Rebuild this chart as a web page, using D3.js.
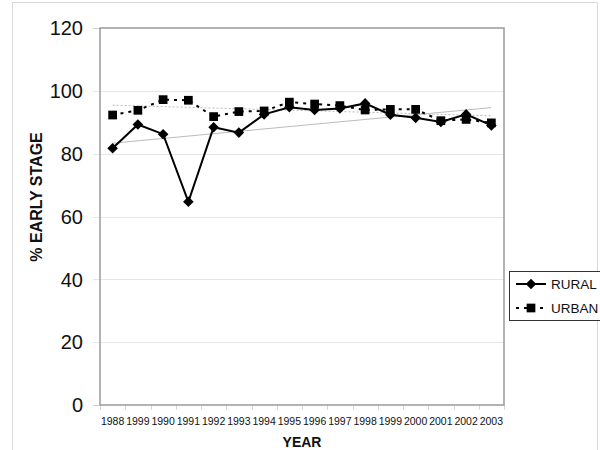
<!DOCTYPE html>
<html>
<head>
<meta charset="utf-8">
<script src="https://cdn.jsdelivr.net/npm/d3@7"></script>
<style>
  body { margin: 0; background: #fff; }
  text { font-family: "Liberation Sans", Arial, sans-serif; }
</style>
</head>
<body>
<div id="chart"></div>
<script>
// chart data
var years = ['1988', '1999', '1990', '1991', '1992', '1993', '1994', '1995',
             '1996', '1997', '1998', '1999', '2000', '2001', '2002', '2003'];
var rural = [81.7, 89.3, 86.2, 64.7, 88.4, 86.7, 92.5, 94.8,
             93.9, 94.4, 96.0, 92.4, 91.4, 90.1, 92.5, 89.0];
var urban = [92.3, 93.8, 97.2, 97.0, 91.8, 93.4, 93.6, 96.4,
             95.8, 95.3, 93.9, 94.1, 94.1, 90.5, 90.9, 89.8];
var yTicks = [0, 20, 40, 60, 80, 100, 120];

var width = 600, height = 450;
var plot = { left: 100, right: 504, top: 28, bottom: 405 };

var svg = d3.select('#chart').append('svg')
  .attr('width', width)
  .attr('height', height);

// outer chart frame
svg.append('rect')
  .attr('x', 12.5).attr('y', 2.5)
  .attr('width', 585).attr('height', 460)
  .attr('fill', 'none')
  .attr('stroke', '#d9d9d9');

// index positions so duplicate year labels stay separate
var x = d3.scaleBand()
  .domain(d3.range(years.length))
  .range([plot.left, plot.right]);

var y = d3.scaleLinear()
  .domain([0, 120])
  .range([plot.bottom, plot.top]);

function cx(i) { return x(i) + x.bandwidth() / 2; }

// gridlines + y ticks
svg.append('g')
  .selectAll('line')
  .data(yTicks.filter(function(d) { return d > 0 && d < 120; }))
  .enter().append('line')
  .attr('x1', plot.left - 7).attr('x2', plot.right)
  .attr('y1', function(d) { return Math.round(y(d)) + 0.5; })
  .attr('y2', function(d) { return Math.round(y(d)) + 0.5; })
  .attr('stroke', '#e6e6e6');

svg.append('g')
  .selectAll('line')
  .data([0, 120])
  .enter().append('line')
  .attr('x1', plot.left - 7).attr('x2', plot.left)
  .attr('y1', function(d) { return Math.round(y(d)) + 0.5; })
  .attr('y2', function(d) { return Math.round(y(d)) + 0.5; })
  .attr('stroke', '#d0d0d0');

// x ticks below the frame
svg.append('g')
  .selectAll('line')
  .data(d3.range(years.length + 1))
  .enter().append('line')
  .attr('x1', function(d) { return Math.round(plot.left + d * x.bandwidth()) + 0.5; })
  .attr('x2', function(d) { return Math.round(plot.left + d * x.bandwidth()) + 0.5; })
  .attr('y1', plot.bottom).attr('y2', plot.bottom + 5)
  .attr('stroke', '#d8d8d8');

svg.append('g')
  .selectAll('text')
  .data(yTicks)
  .enter().append('text')
  .attr('x', 83)
  .attr('y', function(d) { return y(d); })
  .attr('dy', '0.36em')
  .attr('text-anchor', 'end')
  .attr('font-size', 20)
  .attr('fill', '#111')
  .text(function(d) { return d; });

svg.append('g')
  .selectAll('text')
  .data(years)
  .enter().append('text')
  .attr('x', function(d, i) { return cx(i); })
  .attr('y', 425)
  .attr('text-anchor', 'middle')
  .attr('font-size', 10.5)
  .attr('fill', '#111')
  .text(function(d) { return d; });

// plot frame
svg.append('rect')
  .attr('x', plot.left).attr('y', plot.top)
  .attr('width', plot.right - plot.left).attr('height', plot.bottom - plot.top)
  .attr('fill', 'none')
  .attr('stroke', '#9a9a9a')
  .attr('stroke-width', 1.5);

// linear trend lines
function trend(vals) {
  var n = vals.length, xs = d3.range(n);
  var mx = d3.mean(xs), my = d3.mean(vals);
  var b = d3.sum(xs, function(i) { return (i - mx) * (vals[i] - my); }) /
          d3.sum(xs, function(i) { return (i - mx) * (i - mx); });
  var a = my - b * mx;
  return [[0, a], [n - 1, a + b * (n - 1)]];
}

svg.append('line')
  .datum(trend(rural))
  .attr('x1', function(d) { return cx(d[0][0]); })
  .attr('y1', function(d) { return y(d[0][1]); })
  .attr('x2', function(d) { return cx(d[1][0]); })
  .attr('y2', function(d) { return y(d[1][1]); })
  .attr('stroke', '#bbb')
  .attr('stroke-width', 1);

svg.append('line')
  .datum(trend(urban))
  .attr('x1', function(d) { return cx(d[0][0]); })
  .attr('y1', function(d) { return y(d[0][1]); })
  .attr('x2', function(d) { return cx(d[1][0]); })
  .attr('y2', function(d) { return y(d[1][1]); })
  .attr('stroke', '#bbb')
  .attr('stroke-width', 1)
  .attr('stroke-dasharray', '2,2');

var line = d3.line()
  .x(function(d, i) { return cx(i); })
  .y(function(d) { return y(d); });

var diamond = d3.symbol().type(d3.symbolSquare).size(56);
var square = d3.symbol().type(d3.symbolSquare).size(76);

function drawSeries(vals, dash, marker, rot) {
  var g = svg.append('g');
  g.append('path')
    .datum(vals)
    .attr('d', line)
    .attr('fill', 'none')
    .attr('stroke', '#000')
    .attr('stroke-width', 2)
    .attr('stroke-dasharray', dash);
  g.selectAll('path.mark')
    .data(vals)
    .enter().append('path')
    .classed('mark', true)
    .attr('d', marker)
    .attr('transform', function(d, i) {
      return 'translate(' + cx(i) + ',' + y(d) + ') rotate(' + rot + ')';
    })
    .attr('fill', '#000');
}

drawSeries(urban, '3,5', square, 0);
drawSeries(rural, null, diamond, 45);

// axis titles
svg.append('text')
  .attr('transform', 'translate(42,197) rotate(-90)')
  .attr('text-anchor', 'middle')
  .attr('font-size', 16)
  .attr('font-weight', 'bold')
  .attr('fill', '#111')
  .text('% EARLY STAGE');

svg.append('text')
  .attr('x', 302)
  .attr('y', 447)
  .attr('text-anchor', 'middle')
  .attr('font-size', 14)
  .attr('font-weight', 'bold')
  .attr('fill', '#111')
  .text('YEAR');

// legend (runs off the right edge like the original)
var legend = svg.append('g').attr('transform', 'translate(509,271)');
legend.append('rect')
  .attr('x', 0.5).attr('y', 0.5)
  .attr('width', 100).attr('height', 49)
  .attr('fill', '#fff')
  .attr('stroke', '#333');

var entries = [
  { name: 'RURAL', dash: null, marker: diamond, rot: 45 },
  { name: 'URBAN', dash: '3,5', marker: square, rot: 0 }
];

var le = legend.selectAll('g.entry')
  .data(entries)
  .enter().append('g')
  .classed('entry', true)
  .attr('transform', function(d, i) { return 'translate(0,' + (13 + i * 24) + ')'; });

le.append('line')
  .attr('x1', 7).attr('x2', 37)
  .attr('stroke', '#000')
  .attr('stroke-width', 2)
  .attr('stroke-dasharray', function(d) { return d.dash; });

le.append('path')
  .attr('d', function(d) { return d.marker(); })
  .attr('transform', function(d) { return 'translate(22,0) rotate(' + d.rot + ')'; })
  .attr('fill', '#000');

le.append('text')
  .attr('x', 42)
  .attr('dy', '0.36em')
  .attr('font-size', 13.5)
  .attr('fill', '#111')
  .text(function(d) { return d.name; });
</script>
</body>
</html>
